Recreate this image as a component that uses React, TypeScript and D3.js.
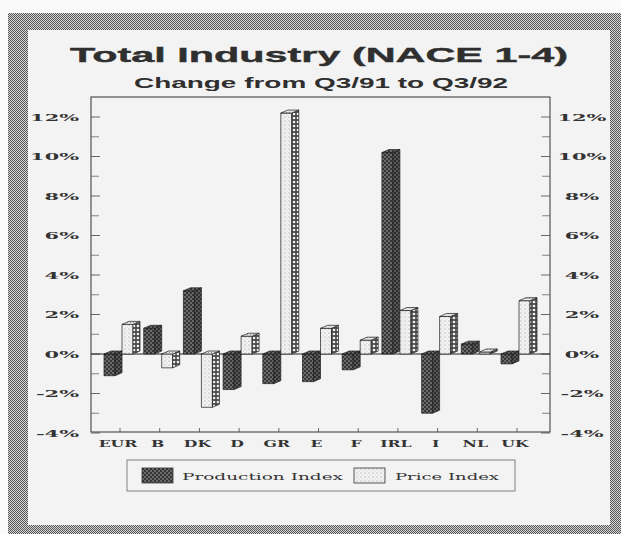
import React from "react";
import * as d3 from "d3";

const categories = ["EUR", "B", "DK", "D", "GR", "E", "F", "IRL", "I", "NL", "UK"];
const production = [-1.1, 1.3, 3.2, -1.8, -1.5, -1.4, -0.8, 10.2, -3.0, 0.5, -0.5];
const price = [1.5, -0.7, -2.7, 0.9, 12.2, 1.3, 0.7, 2.2, 1.9, 0.1, 2.7];
const yTickValues = [-4, -2, 0, 2, 4, 6, 8, 10, 12];
const yMinorValues = [-3, -1, 1, 3, 5, 7, 9, 11, 13];
const seriesNames = ["Production Index", "Price Index"];
const titleText = "Total Industry (NACE 1-4)";
const subtitleText = "Change from Q3/91 to Q3/92";

const W = 621;
const H = 534;
const FRAME = { x0: 91, y0: 97, x1: 550, y1: 432 };
const FW = 11;
const DX = 7;
const DY = 3;

function SText(props: any) {
  const { x, y, sx, anchor, children, ...rest } = props;
  return (
    <text transform={`translate(${x},${y}) scale(${sx},1)`} textAnchor={anchor} {...rest}>
      {children}
    </text>
  );
}

export default function App() {
  const x = d3.scaleBand<string>().domain(categories).range([100.15, 536.85]).padding(0);
  const cx = (c: string) => (x(c) as number) + x.bandwidth() / 2;
  const y = d3.scaleLinear().domain([-4, 12]).range([433, 117]);
  const fmt = (v: number) => `${v}%`;

  const bar = (key: string, x0: number, v: number, front: string, side: string, top: string) => {
    const yT = y(Math.max(v, 0));
    const yB = y(Math.min(v, 0));
    const x1 = x0 + FW;
    const st = { stroke: "#1e1e1e", strokeWidth: 0.7, strokeLinejoin: "round" as const };
    return (
      <g key={key}>
        <rect x={x0} y={yT} width={FW} height={Math.max(yB - yT, 0.5)} fill={front} {...st} />
        <polygon
          points={`${x1},${yT} ${x1 + DX},${yT - DY} ${x1 + DX},${yB - DY} ${x1},${yB}`}
          fill={side}
          {...st}
        />
        <polygon
          points={`${x0},${yT} ${x0 + DX},${yT - DY} ${x1 + DX},${yT - DY} ${x1},${yT}`}
          fill={top}
          {...st}
        />
      </g>
    );
  };

  const serif = "'DejaVu Serif', 'Liberation Serif', serif";
  const sans = "'Liberation Sans', Arial, sans-serif";

  return (
    <svg
      width={W}
      height={H}
      viewBox={`0 0 ${W} ${H}`}
      style={{ position: "absolute", left: 0, top: 0, display: "block" }}
    >
      <defs>
        <pattern id="hatch" width="2" height="2" patternUnits="userSpaceOnUse">
          <rect width="2" height="2" fill="#d8d8d8" />
          <rect x="0" y="0" width="1" height="1" fill="#555" />
          <rect x="1" y="1" width="1" height="1" fill="#555" />
        </pattern>
        <pattern id="prodFront" width="4" height="4" patternUnits="userSpaceOnUse">
          <rect width="4" height="4" fill="#363636" />
          <circle cx="1" cy="1" r="0.75" fill="#b8b8b8" />
          <circle cx="3" cy="3" r="0.75" fill="#b8b8b8" />
        </pattern>
        <pattern id="prodSide" width="4" height="4" patternUnits="userSpaceOnUse">
          <rect width="4" height="4" fill="#2e2e2e" />
          <circle cx="1" cy="1" r="0.7" fill="#a0a0a0" />
          <circle cx="3" cy="3" r="0.7" fill="#a0a0a0" />
        </pattern>
        <pattern id="priceFront" width="4" height="4" patternUnits="userSpaceOnUse">
          <rect width="4" height="4" fill="#f2f2f2" />
          <circle cx="1" cy="1" r="0.55" fill="#8a8a8a" />
          <circle cx="3" cy="3" r="0.4" fill="#b0b0b0" />
        </pattern>
        <pattern id="priceSide" width="4" height="4" patternUnits="userSpaceOnUse">
          <rect width="4" height="4" fill="#4a4a4a" />
          <circle cx="2" cy="2" r="1.35" fill="#f0f0f0" />
        </pattern>
        <pattern id="priceTop" width="3" height="3" patternUnits="userSpaceOnUse">
          <rect width="3" height="3" fill="#e4e4e4" />
          <circle cx="1.5" cy="1.5" r="0.5" fill="#777" />
        </pattern>
      </defs>

      <rect x={0} y={0} width={W} height={H} fill="#fafafa" />
      <rect x={8} y={13} width={W - 8} height={H - 13} fill="url(#hatch)" />
      <rect x={28} y={30} width={610 - 28} height={525 - 30} fill="#f3f3f3" />

      <text
        x={70}
        y={62}
        fontFamily={sans}
        fontWeight="bold"
        fontSize={21}
        fill="#2f2f2f"
        stroke="#2f2f2f"
        strokeWidth={0.4}
        textLength={498}
        lengthAdjust="spacingAndGlyphs"
      >
        {titleText}
      </text>
      <text
        x={134}
        y={88}
        fontFamily={sans}
        fontWeight="bold"
        fontSize={14.5}
        fill="#2f2f2f"
        textLength={374}
        lengthAdjust="spacingAndGlyphs"
      >
        {subtitleText}
      </text>

      {/* frame */}
      <rect
        x={FRAME.x0}
        y={FRAME.y0}
        width={FRAME.x1 - FRAME.x0}
        height={FRAME.y1 - FRAME.y0}
        fill="none"
        stroke="#333"
        strokeWidth={1}
      />

      {/* y ticks */}
      {yTickValues.map((v) => (
        <g key={`t${v}`}>
          <line x1={FRAME.x0} x2={FRAME.x0 + 9} y1={y(v)} y2={y(v)} stroke="#444" strokeWidth={0.8} />
          <line x1={FRAME.x1} x2={FRAME.x1 - 9} y1={y(v)} y2={y(v)} stroke="#444" strokeWidth={0.8} />
          <SText
            x={79}
            y={y(v) + 3.5}
            sx={2.2}
            anchor="end"
            fontFamily={serif}
            fontWeight="bold"
            fontSize={9.5}
            fill="#333"
          >
            {fmt(v)}
          </SText>
          <SText
            x={582}
            y={y(v) + 3.5}
            sx={2.2}
            anchor="middle"
            fontFamily={serif}
            fontWeight="bold"
            fontSize={9.5}
            fill="#333"
          >
            {fmt(v)}
          </SText>
        </g>
      ))}
      {yMinorValues
        .filter((v) => y(v) > FRAME.y0 + 1)
        .map((v) => (
          <g key={`m${v}`}>
            <line x1={FRAME.x0} x2={FRAME.x0 + 8} y1={y(v)} y2={y(v)} stroke="#555" strokeWidth={0.7} />
            <line x1={FRAME.x1} x2={FRAME.x1 - 8} y1={y(v)} y2={y(v)} stroke="#555" strokeWidth={0.7} />
          </g>
        ))}

      {/* zero line */}
      <line x1={FRAME.x0} x2={FRAME.x1} y1={y(0)} y2={y(0)} stroke="#222" strokeWidth={1.2} />

      {/* x ticks & labels */}
      {categories.map((c) => (
        <g key={`x${c}`}>
          <line x1={cx(c)} x2={cx(c)} y1={FRAME.y1} y2={FRAME.y1 - 4} stroke="#444" strokeWidth={0.8} />
          <SText
            x={cx(c) - 2}
            y={447}
            sx={1.85}
            anchor="middle"
            fontFamily={serif}
            fontWeight="bold"
            fontSize={8.5}
            fill="#333"
          >
            {c}
          </SText>
        </g>
      ))}

      {/* bars */}
      {categories.map((c, i) =>
        bar(`p${c}`, cx(c) - 16, production[i], "url(#prodFront)", "url(#prodSide)", "url(#prodFront)")
      )}
      {categories.map((c, i) =>
        bar(`q${c}`, cx(c) + 2, price[i], "url(#priceFront)", "url(#priceSide)", "url(#priceTop)")
      )}

      {/* legend */}
      <rect x={127} y={460} width={388} height={31} fill="none" stroke="#777" strokeWidth={0.9} />
      <rect x={142} y={468} width={31} height={15} fill="url(#prodFront)" stroke="#333" strokeWidth={0.8} />
      <text
        x={182}
        y={480}
        fontFamily={serif}
        fontSize={9.6}
        fill="#333"
        textLength={161}
        lengthAdjust="spacingAndGlyphs"
      >
        {seriesNames[0]}
      </text>
      <rect x={354} y={468} width={31} height={15} fill="url(#priceFront)" stroke="#333" strokeWidth={0.8} />
      <text
        x={395}
        y={480}
        fontFamily={serif}
        fontSize={9.6}
        fill="#333"
        textLength={104}
        lengthAdjust="spacingAndGlyphs"
      >
        {seriesNames[1]}
      </text>
    </svg>
  );
}
